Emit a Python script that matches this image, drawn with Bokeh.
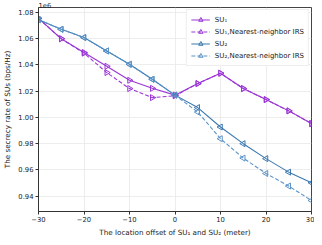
from bokeh.plotting import figure
from bokeh.models import Range1d, FixedTicker, CustomJSTickFormatter, Legend
from bokeh.embed import file_html
from bokeh.resources import INLINE

offsets = [-30, -25, -20, -15, -10, -5, 0, 5, 10, 15, 20, 25, 30]
su1 = [1.0755e6, 1.0600e6, 1.0495e6, 1.0390e6, 1.0283e6, 1.0222e6, 1.0170e6,
       1.0258e6, 1.0337e6, 1.0220e6, 1.0136e6, 1.0050e6, 0.9953e6]
su1_nn = [1.0755e6, 1.0600e6, 1.0490e6, 1.0342e6, 1.0220e6, 1.0151e6, 1.0165e6,
          1.0258e6, 1.0337e6, 1.0220e6, 1.0136e6, 1.0050e6, 0.9953e6]
su2 = [1.0745e6, 1.0672e6, 1.0609e6, 1.0507e6, 1.0405e6, 1.0291e6, 1.0170e6,
       1.0075e6, 0.9927e6, 0.9800e6, 0.9686e6, 0.9583e6, 0.9502e6]
su2_nn = [1.0745e6, 1.0672e6, 1.0609e6, 1.0507e6, 1.0405e6, 1.0291e6, 1.0170e6,
          1.0041e6, 0.9838e6, 0.9690e6, 0.9573e6, 0.9477e6, 0.9367e6]
x_ticks = [-30, -20, -10, 0, 10, 20, 30]
y_ticks = [0.94e6, 0.96e6, 0.98e6, 1.00e6, 1.02e6, 1.04e6, 1.06e6, 1.08e6]

FONT = "DejaVu Sans"
FS = "6.8px"
LFS = "7.2px"
PURPLE = "#9b36d6"
BLUE = "#3a78b0"
LBLUE = "#5b93c8"

p = figure(frame_width=273, frame_height=204, output_backend="svg", toolbar_location=None,
           x_range=Range1d(-30, 30), y_range=Range1d(0.9283e6, 1.0838e6),
           min_border_left=0, min_border_right=3, min_border_top=0, min_border_bottom=0,
           title="1e6", title_location="above")
p.title.text_font = FONT
p.title.text_font_size = FS
p.title.text_font_style = "normal"
p.title.text_color = "#222222"
p.title.align = "left"
p.title.standoff = 0
p.title.offset = 0

p.background_fill_color = "white"
p.border_fill_color = "white"
p.outline_line_color = "#444444"
p.outline_line_width = 1

p.xaxis.ticker = FixedTicker(ticks=x_ticks)
p.yaxis.ticker = FixedTicker(ticks=y_ticks)
p.yaxis.formatter = CustomJSTickFormatter(code="return (tick/1e6).toFixed(2);")
p.xaxis.formatter = CustomJSTickFormatter(code="return tick < 0 ? '\u2212' + Math.abs(tick) : '' + tick;")

for ax in (p.xaxis[0], p.yaxis[0]):
    ax.axis_line_color = "#333333"
    ax.major_tick_line_color = "#333333"
    ax.major_tick_out = 3
    ax.major_tick_in = 0
    ax.minor_tick_line_color = None
    ax.major_label_text_font = FONT
    ax.major_label_text_font_size = FS
    ax.major_label_text_color = "#222222"
    ax.major_label_standoff = 2
    ax.axis_label_text_font = FONT
    ax.axis_label_text_font_size = LFS
    ax.axis_label_text_font_style = "normal"
    ax.axis_label_text_color = "#222222"
    ax.axis_label_standoff = 3

p.xaxis.axis_label = "The location offset of SU\u2081 and SU\u2082 (meter)"
p.yaxis.axis_label = "The secrecy rate of SUs (bps/Hz)"

p.grid.grid_line_color = "#e8e8e8"
p.grid.grid_line_width = 0.8

ms = 6
r1 = p.line(offsets, su1, line_color=PURPLE, line_width=1.1)
m1 = p.scatter(offsets, su1, marker="triangle", angle=-1.5708, size=ms,
               line_color=PURPLE, fill_alpha=0, line_width=1)
r2 = p.line(offsets, su1_nn, line_color=PURPLE, line_width=1.1, line_dash="4 2")
m2 = p.scatter(offsets, su1_nn, marker="triangle", angle=-1.5708, size=ms,
               line_color=PURPLE, fill_alpha=0, line_width=1)
r3 = p.line(offsets, su2, line_color=BLUE, line_width=1.1)
m3 = p.scatter(offsets, su2, marker="triangle", angle=1.5708, size=ms,
               line_color=BLUE, fill_alpha=0, line_width=1)
r4 = p.line(offsets, su2_nn, line_color=LBLUE, line_width=1.1, line_dash="4 2")
m4 = p.scatter(offsets, su2_nn, marker="triangle", angle=1.5708, size=ms,
               line_color=LBLUE, fill_alpha=0, line_width=1)

legend = Legend(items=[
    ("SU\u2081", [r1, m1]),
    ("SU\u2081,Nearest-neighbor IRS", [r2, m2]),
    ("SU\u2082", [r3, m3]),
    ("SU\u2082,Nearest-neighbor IRS", [r4, m4]),
], location="top_right")
legend.label_text_font = FONT
legend.label_text_font_size = "7px"
legend.label_text_color = "#222222"
legend.label_height = 11
legend.label_standoff = 5
legend.glyph_width = 19
legend.glyph_height = 11
legend.spacing = 1
legend.padding = 4
legend.margin = 2
legend.border_line_color = "#dddddd"
legend.border_line_width = 1
legend.background_fill_alpha = 0.9
p.add_layout(legend)

open("out.html", "w").write(file_html(p, INLINE))
